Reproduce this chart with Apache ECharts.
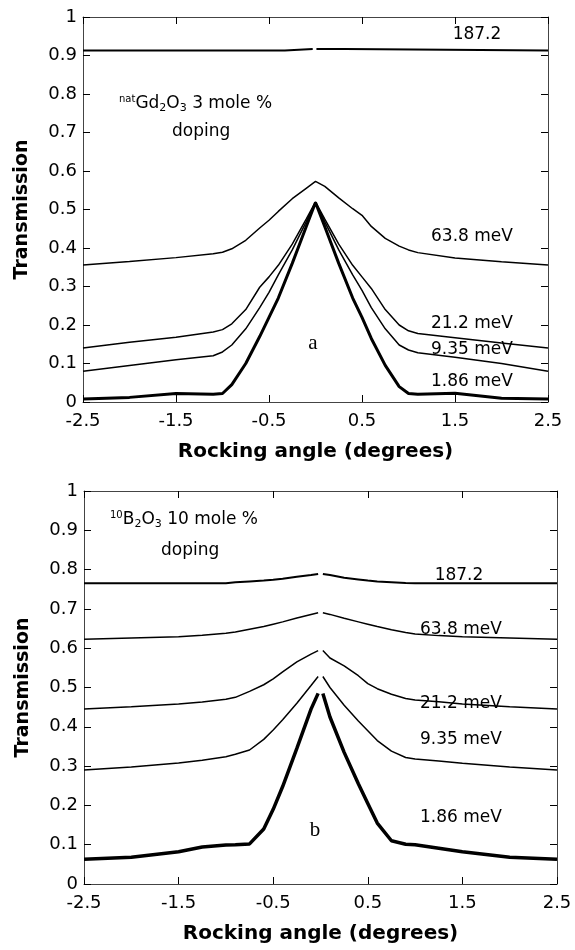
<!DOCTYPE html>
<html>
<head>
<meta charset="utf-8">
<script src="https://cdn.jsdelivr.net/npm/echarts@6/dist/echarts.min.js"></script>
<style>
  html, body { margin: 0; padding: 0; background: #fff; }
  #chart { width: 575px; height: 950px; }
</style>
</head>
<body>
<div id="chart"></div>
<script>
// panel a: natGd2O3 3 mole % doping
var topAngle = [-2.5, -2, -1.5, -1.1, -1, -0.9, -0.75, -0.6, -0.5, -0.4, -0.25, -0.1, 0,
  0.1, 0.25, 0.4, 0.5, 0.6, 0.75, 0.9, 1, 1.1, 1.5, 2, 2.5];
var top638 = [0.356, 0.365, 0.375, 0.385, 0.389, 0.398, 0.42, 0.452, 0.472, 0.495, 0.528, 0.555, 0.573,
  0.56, 0.53, 0.502, 0.485, 0.456, 0.425, 0.405, 0.395, 0.388, 0.374, 0.364, 0.356];
var top212 = [0.14, 0.155, 0.168, 0.182, 0.188, 0.203, 0.24, 0.298, 0.325, 0.355, 0.41, 0.475, 0.52,
  0.475, 0.41, 0.355, 0.325, 0.295, 0.24, 0.2, 0.185, 0.178, 0.167, 0.153, 0.14];
var top935 = [0.08, 0.095, 0.11, 0.12, 0.13, 0.148, 0.19, 0.245, 0.285, 0.33, 0.395, 0.468, 0.518,
  0.468, 0.395, 0.33, 0.29, 0.245, 0.19, 0.148, 0.135, 0.128, 0.116, 0.1, 0.08];
var top186 = [0.008, 0.012, 0.022, 0.02, 0.022, 0.045, 0.1, 0.17, 0.22, 0.27, 0.36, 0.455, 0.518,
  0.455, 0.36, 0.27, 0.22, 0.165, 0.095, 0.04, 0.022, 0.02, 0.023, 0.01, 0.008];
var top1872Angle = [-2.5, -0.33, -0.33, -0.03, 0, 0.01, 0.32, 0.32, 2.5];
var top1872 = [0.913, 0.913, 0.917, 0.917, null, 0.917, 0.917, 0.913, 0.913];

// panel b: 10B2O3 10 mole % doping
var botAngle = [-2.5, -2, -1.5, -1.25, -1, -0.9, -0.75, -0.6, -0.5, -0.4, -0.25, -0.1, -0.025, 0,
  0.025, 0.1, 0.25, 0.4, 0.5, 0.6, 0.75, 0.9, 1, 1.25, 1.5, 2, 2.5];
var bot1872 = [0.765, 0.765, 0.765, 0.765, 0.765, 0.768, 0.77, 0.772, 0.774, 0.777, 0.782, 0.786, 0.789, null,
  0.789, 0.786, 0.779, 0.775, 0.772, 0.77, 0.768, 0.766, 0.765, 0.765, 0.765, 0.765, 0.765];
var bot638 = [0.623, 0.626, 0.629, 0.633, 0.638, 0.641, 0.648, 0.655, 0.661, 0.667, 0.677, 0.686, 0.69, null,
  0.69, 0.686, 0.676, 0.667, 0.661, 0.655, 0.647, 0.64, 0.636, 0.632, 0.629, 0.626, 0.623];
var bot212 = [0.445, 0.451, 0.458, 0.463, 0.47, 0.475, 0.49, 0.507, 0.522, 0.54, 0.565, 0.585, 0.594, null,
  0.594, 0.575, 0.555, 0.53, 0.51, 0.497, 0.483, 0.472, 0.468, 0.464, 0.458, 0.451, 0.445];
var bot935 = [0.29, 0.298, 0.308, 0.315, 0.324, 0.33, 0.341, 0.368, 0.392, 0.418, 0.46, 0.505, 0.528, null,
  0.528, 0.5, 0.455, 0.415, 0.39, 0.365, 0.338, 0.322, 0.318, 0.313, 0.307, 0.298, 0.29];
var bot186 = [0.063, 0.068, 0.082, 0.094, 0.099, 0.1, 0.102, 0.14, 0.19, 0.248, 0.345, 0.445, 0.485, null,
  0.485, 0.425, 0.335, 0.255, 0.205, 0.155, 0.11, 0.101, 0.1, 0.091, 0.082, 0.068, 0.063];

var FONT = 'DejaVu Sans';

function pairs(xs, ys) {
  return xs.map(function (x, i) { return [x, ys[i] === null ? '-' : ys[i]]; });
}

function curve(grid, xs, ys, width) {
  return {
    type: 'line',
    xAxisIndex: grid * 2,
    yAxisIndex: grid * 2,
    data: pairs(xs, ys),
    showSymbol: false,
    connectNulls: false,
    lineStyle: { color: '#000', width: width },
    silent: true
  };
}

function xAxes(grid) {
  var base = {
    type: 'value', gridIndex: grid, min: -2.5, max: 2.5, interval: 1,
    axisLine: { show: true, onZero: false, lineStyle: { color: '#444', width: 1 } },
    axisTick: { show: true, inside: true, length: 7, lineStyle: { color: '#000' } },
    splitLine: { show: false }
  };
  return [
    Object.assign({}, base, {
      position: 'bottom',
      axisLabel: { color: '#000', fontFamily: FONT, fontSize: 18, margin: 10 },
      name: 'Rocking angle (degrees)',
      nameLocation: 'middle',
      nameGap: 40,
      nameTextStyle: { color: '#000', fontFamily: FONT, fontSize: 20, fontWeight: 'bold' }
    }),
    Object.assign({}, base, { position: 'top', axisLabel: { show: false } })
  ];
}

function yAxes(grid) {
  var base = {
    type: 'value', gridIndex: grid, min: 0, max: 1, interval: 0.1,
    axisLine: { show: true, onZero: false, lineStyle: { color: '#444', width: 1 } },
    axisTick: { show: true, inside: true, length: 7, lineStyle: { color: '#000' } },
    splitLine: { show: false }
  };
  return [
    Object.assign({}, base, {
      position: 'left',
      axisLabel: { color: '#000', fontFamily: FONT, fontSize: 18, margin: 6 },
      name: 'Transmission',
      nameLocation: 'middle',
      nameRotate: 90,
      nameGap: 51,
      nameTextStyle: { color: '#000', fontFamily: FONT, fontSize: 19, fontWeight: 'bold' }
    }),
    Object.assign({}, base, { position: 'right', axisLabel: { show: false } })
  ];
}

function label(x, y, text, align, extra) {
  return {
    type: 'text', x: x, y: y, silent: true,
    style: Object.assign({
      text: text, fill: '#000', font: '17px "DejaVu Sans"',
      textAlign: align || 'left', textVerticalAlign: 'middle'
    }, extra || {})
  };
}

var richDoping = {
  sup: { fontSize: 10, fontFamily: FONT, padding: [0, 0, 9, 0] },
  sub: { fontSize: 11, fontFamily: FONT, padding: [9, 0, 0, 0] },
  n: { fontSize: 17, fontFamily: FONT }
};

var chart = echarts.init(document.getElementById('chart'));
chart.setOption({
  animation: false,
  backgroundColor: '#fff',
  grid: [
    { left: 83, right: 27, top: 17, height: 385, containLabel: false, outerBoundsMode: 'none' },
    { left: 84, right: 18, top: 491, height: 393, containLabel: false, outerBoundsMode: 'none' }
  ],
  xAxis: xAxes(0).concat(xAxes(1)),
  yAxis: yAxes(0).concat(yAxes(1)),
  series: [
    curve(0, top1872Angle, top1872, 2),
    curve(0, topAngle, top638, 1.5),
    curve(0, topAngle, top212, 1.5),
    curve(0, topAngle, top935, 1.5),
    curve(0, topAngle, top186, 3),
    curve(1, botAngle, bot1872, 2),
    curve(1, botAngle, bot638, 1.5),
    curve(1, botAngle, bot212, 1.5),
    curve(1, botAngle, bot935, 1.5),
    curve(1, botAngle, bot186, 3.5)
  ],
  graphic: [
    label(477, 35, '187.2', 'center'),
    label(119, 104, '{sup|nat}{n|Gd}{sub|2}{n|O}{sub|3}{n| 3 mole %}', 'left', { rich: richDoping }),
    label(172, 132, 'doping'),
    label(431, 237, '63.8 meV'),
    label(431, 324, '21.2 meV'),
    label(431, 350, '9.35 meV'),
    label(431, 382, '1.86 meV'),
    label(313, 343, 'a', 'center', { font: '21px "Liberation Serif"' }),

    label(110, 520, '{sup|10}{n|B}{sub|2}{n|O}{sub|3}{n| 10 mole %}', 'left', { rich: richDoping }),
    label(161, 551, 'doping'),
    label(459, 576, '187.2', 'center'),
    label(420, 630, '63.8 meV'),
    label(420, 704, '21.2 meV'),
    label(420, 740, '9.35 meV'),
    label(420, 818, '1.86 meV'),
    label(315, 830, 'b', 'center', { font: '21px "Liberation Serif"' })
  ]
});
</script>
</body>
</html>
